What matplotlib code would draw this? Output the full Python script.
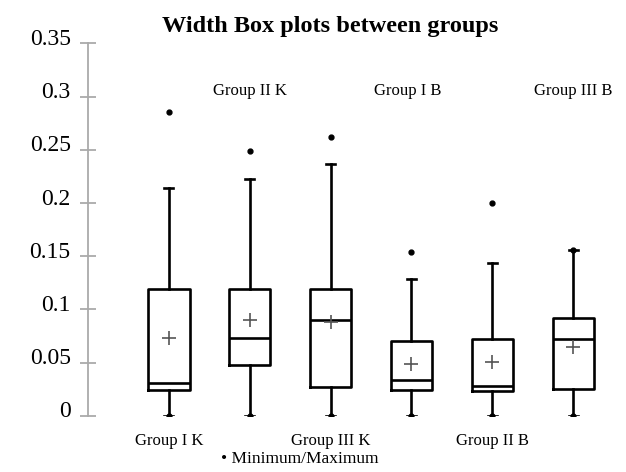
import matplotlib.pyplot as plt
from matplotlib.transforms import ScaledTranslation

# values
groups = ['Group I K', 'Group II K', 'Group III K', 'Group I B', 'Group II B', 'Group III B']
minimum = [0.0, 0.0, 0.0, 0.0, 0.0, 0.0]
whisker_low = [0.0, 0.0, 0.0, 0.0, 0.0, 0.0]
q1 = [0.024, 0.048, 0.027, 0.024, 0.023, 0.025]
median = [0.031, 0.073, 0.090, 0.034, 0.028, 0.072]
q3 = [0.119, 0.119, 0.119, 0.070, 0.072, 0.092]
whisker_high = [0.214, 0.223, 0.237, 0.129, 0.144, 0.156]
maximum = [0.286, 0.249, 0.262, 0.154, 0.200, 0.156]
mean = [0.073, 0.090, 0.088, 0.049, 0.051, 0.065]
yticks = [0, 0.05, 0.1, 0.15, 0.2, 0.25, 0.3, 0.35]
ytick_labels = ['0', '0.05', '0.1', '0.15', '0.2', '0.25', '0.3', '0.35']

plt.rcParams['font.family'] = ['Liberation Serif', 'DejaVu Serif']

fig = plt.figure(figsize=(6.26, 4.72), dpi=100)
ax = fig.add_axes([0.1406, 0.119, 0.85, 0.789])

positions = list(range(1, len(groups) + 1))
stats = []
for i in range(len(groups)):
    stats.append({'med': median[i], 'q1': q1[i], 'q3': q3[i],
                  'whislo': whisker_low[i], 'whishi': whisker_high[i],
                  'mean': mean[i], 'fliers': []})

ax.bxp(stats, positions=positions, widths=0.51, showmeans=True,
       boxprops=dict(color='black', linewidth=1.9),
       medianprops=dict(color='black', linewidth=1.9),
       whiskerprops=dict(color='black', linewidth=1.9),
       capprops=dict(color='black', linewidth=1.9),
       capwidths=0.11,
       meanprops=dict(marker='+', markeredgecolor='#555555', markersize=10,
                      markeredgewidth=1.2))

# min / max points
ax.plot(positions, minimum, 'o', color='black', markersize=3.5)
ax.plot(positions, maximum, 'o', color='black', markersize=3.5)

ax.set_xlim(0, 6.58)
ax.set_ylim(0, 0.35)
ax.set_yticks(yticks)
ax.set_yticklabels(ytick_labels, fontsize=17)
ax.set_xticks([])
for s in ['top', 'right', 'bottom']:
    ax.spines[s].set_visible(False)
ax.spines['left'].set_color('#aaaaaa')
ax.spines['left'].set_linewidth(1.3)
ax.tick_params(axis='y', direction='inout', length=11, width=1.3,
               color='#aaaaaa', pad=7)
# tick labels sit a little above their ticks in the original
shift = ScaledTranslation(0, 0.065, fig.dpi_scale_trans)
for lab in ax.get_yticklabels():
    lab.set_transform(lab.get_transform() + shift)

# group labels, alternating below and above
for i, name in enumerate(groups):
    if i % 2 == 0:
        ax.text(positions[i], -0.024, name, ha='center', va='center', fontsize=12)
    else:
        ax.text(positions[i] - 0.05 * (i == 3), 0.305, name, ha='center', va='center', fontsize=12)

fig.text(0.528, 0.944, 'Width Box plots between groups', ha='center', va='center',
         fontsize=17.5, fontweight='bold')
fig.text(0.479, 0.027, '\u2022 Minimum/Maximum', ha='center', va='center', fontsize=12.5)

plt.savefig('out.png', dpi=100)
